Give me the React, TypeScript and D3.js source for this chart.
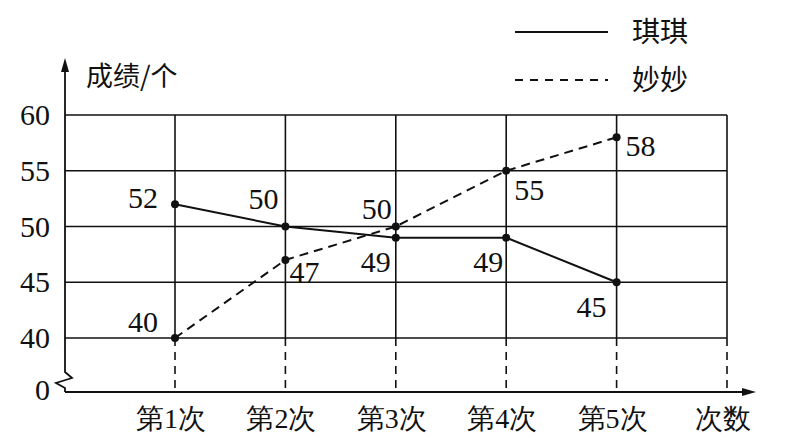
import * as d3 from "d3";

// categories along the x axis ("次数" is the axis name column)
const rounds = ["第1次", "第2次", "第3次", "第4次", "第5次"];
const xAxisName = "次数";
const yTicks = [40, 45, 50, 55, 60];

// scores per round
const qiqi = [52, 50, 49, 49, 45];
const miaomiao = [40, 47, 50, 55, 58];

// where each value label sits relative to its point (dx, dy)
const qiqiLabelOffsets = [[-32, -6], [-22, -28], [-20, 24], [-18, 24], [-25, 25]];
const miaoLabelOffsets = [[-32, -16], [19, 12], [-19, -18], [23, 19], [24, 8]];

const serif = `"Liberation Serif"`;
const cjk = `"Noto Sans CJK SC"`;

export default function App() {
  const width = 787;
  const height = 444;
  const axisX = 65;
  const baseY = 392;

  const x = d3
    .scalePoint<string>()
    .domain([...rounds, xAxisName])
    .range([175, 727]);

  const y = d3.scaleLinear().domain([40, 60]).range([338, 115]);

  const line = d3
    .line<number>()
    .x((_, i) => x(rounds[i]) as number)
    .y((d) => y(d));

  const gridRight = x(xAxisName) as number;
  const num = { fontFamily: serif };

  return (
    <svg
      width={width}
      height={height}
      style={{ position: "absolute", left: 0, top: 0, background: "#fff" }}
    >
      {/* horizontal grid */}
      {yTicks.map((t) => (
        <line key={t} x1={axisX} x2={gridRight} y1={y(t)} y2={y(t)} stroke="#111" strokeWidth={1.6} />
      ))}
      {/* vertical grid: solid in the 40-60 band, dashed down to the axis */}
      {x.domain().map((c) => (
        <g key={c}>
          <line x1={x(c)} x2={x(c)} y1={y(60)} y2={y(40)} stroke="#111" strokeWidth={1.6} />
          <line
            x1={x(c)}
            x2={x(c)}
            y1={y(40)}
            y2={baseY}
            stroke="#111"
            strokeWidth={1.6}
            strokeDasharray="8,6"
          />
        </g>
      ))}

      {/* y axis with break */}
      <path
        d={`M${axisX},${baseY} L${axisX},388 L56,383 L72,378 L${axisX},372 L${axisX},66`}
        fill="none"
        stroke="#111"
        strokeWidth={1.8}
      />
      <path d={`M${axisX},58 L${axisX - 4},72 L${axisX + 4},72 Z`} fill="#111" />
      {/* x axis */}
      <line x1={axisX} x2={748} y1={baseY} y2={baseY} stroke="#111" strokeWidth={1.8} />
      <path d={`M756,${baseY} L742,${baseY - 4} L742,${baseY + 4} Z`} fill="#111" />

      {/* y tick labels */}
      {yTicks.map((t) => (
        <text key={t} x={50} y={y(t)} dy="0.34em" textAnchor="end" fontSize={30} fill="#111" fontFamily={serif} style={num}>
          {String(t)}
        </text>
      ))}
      <text x={50} y={baseY - 2} dy="0.34em" textAnchor="end" fontSize={30} fill="#111" fontFamily={serif} style={num}>
        0
      </text>
      <text x={86} y={76} dy="0.36em" fontSize={27} fill="#111" style={{ fontFamily: cjk }}>
        成绩/个
      </text>

      {/* x labels */}
      {x.domain().map((c) => (
        <text
          key={c}
          x={(x(c) as number) - 4}
          y={418}
          dy="0.36em"
          textAnchor="middle"
          fontSize={28}
          fill="#111"
          fontFamily={serif}
          style={num}
        >
          {c}
        </text>
      ))}

      {/* series */}
      <path d={line(qiqi) ?? ""} fill="none" stroke="#111" strokeWidth={2} />
      <path d={line(miaomiao) ?? ""} fill="none" stroke="#111" strokeWidth={2} strokeDasharray="9,6" />

      {[
        { data: qiqi, offs: qiqiLabelOffsets },
        { data: miaomiao, offs: miaoLabelOffsets },
      ].map((s, si) =>
        s.data.map((v, i) => {
          const px = x(rounds[i]) as number;
          const py = y(v);
          return (
            <g key={`${si}-${i}`}>
              <circle cx={px} cy={py} r={4} fill="#111" />
              <text
                x={px + s.offs[i][0]}
                y={py + s.offs[i][1]}
                dy="0.34em"
                textAnchor="middle"
                fontSize={30}
                fill="#111"
                fontFamily={serif}
                style={num}
              >
                {String(v)}
              </text>
            </g>
          );
        })
      )}

      {/* legend */}
      <line x1={515} x2={608} y1={32} y2={32} stroke="#111" strokeWidth={2} />
      <text x={632} y={32} dy="0.36em" fontSize={28} fill="#111" style={{ fontFamily: cjk }}>
        琪琪
      </text>
      <line x1={515} x2={608} y1={80} y2={80} stroke="#111" strokeWidth={2} strokeDasharray="8,7" />
      <text x={632} y={80} dy="0.36em" fontSize={28} fill="#111" style={{ fontFamily: cjk }}>
        妙妙
      </text>
    </svg>
  );
}
